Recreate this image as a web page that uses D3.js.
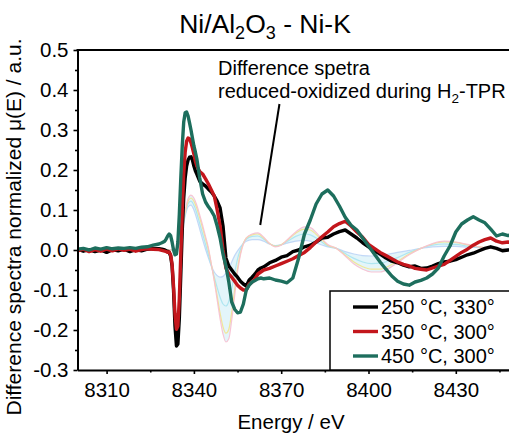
<!DOCTYPE html>
<html>
<head>
<meta charset="utf-8">
<script src="https://cdn.jsdelivr.net/npm/d3@7"></script>
<style>
  body { margin: 0; background: #fff; }
  svg { display: block; }
  text { font-family: Arial, "Liberation Sans", sans-serif; fill: #000; }
</style>
</head>
<body>
<svg id="chart" width="509" height="433"></svg>
<script>
// Energy grid (eV) shared by the three measured difference spectra
const energy = [
  8300, 8302, 8304, 8306, 8308, 8310, 8312, 8314, 8316, 8318, 8320, 8322, 8324, 8326, 8328,
  8329, 8330, 8330.5, 8331, 8331.5, 8332, 8332.5, 8333, 8333.5, 8334, 8334.5, 8335, 8335.5,
  8336, 8336.5, 8337, 8337.5, 8338, 8338.5, 8339, 8339.5, 8340, 8340.5, 8341,
  8342, 8343, 8344, 8345, 8346, 8347, 8348, 8349, 8350, 8351, 8352, 8353, 8354, 8355, 8356,
  8357, 8358, 8359, 8360, 8361, 8362, 8363, 8364,
  8366, 8368, 8370, 8372, 8374, 8376, 8378, 8380, 8382, 8384, 8386, 8388, 8390, 8392, 8394,
  8396, 8398, 8400, 8402, 8404, 8406, 8408, 8410, 8412, 8414, 8416, 8418, 8420, 8422, 8424,
  8426, 8428, 8430, 8432, 8434, 8436, 8438, 8440, 8442, 8444, 8446, 8448, 8450
];

// 250 °C, 330°
const spec250 = [
  0.002, -0.003, 0.001, -0.004, 0.000, -0.006, 0.001, -0.002, 0.002, -0.004, 0.001, -0.002, 0.002, 0.004, 0.003,
  0.002, 0.000, -0.002, -0.003, -0.006, -0.015, -0.040, -0.100, -0.190, -0.240, -0.235, -0.170, -0.060,
  0.050, 0.130, 0.180, 0.210, 0.225, 0.232, 0.233, 0.225, 0.210, 0.198, 0.190,
  0.172, 0.165, 0.160, 0.152, 0.145, 0.135, 0.122, 0.105, 0.060, -0.020, -0.040, -0.050, -0.060, -0.068, -0.078,
  -0.085, -0.090, -0.075, -0.068, -0.060, -0.050, -0.045, -0.042,
  -0.032, -0.026, -0.018, -0.014, -0.004, 0.000, 0.008, 0.012, 0.020, 0.030, 0.032, 0.040, 0.046, 0.050, 0.040,
  0.030, 0.018, 0.008, -0.002, -0.010, -0.020, -0.028, -0.032, -0.038, -0.042, -0.040, -0.046, -0.045, -0.040, -0.034,
  -0.030, -0.028, -0.024, -0.018, -0.012, -0.008, -0.002, 0.004, 0.008, 0.004, -0.002, 0.000, 0.002
];

// 350 °C, 300°
const spec350 = [
  -0.002, 0.002, -0.004, 0.001, -0.003, 0.002, -0.002, 0.003, -0.001, 0.002, -0.003, 0.001, 0.003, 0.002, 0.001,
  -0.001, -0.003, -0.004, -0.006, -0.005, -0.012, -0.035, -0.090, -0.160, -0.198, -0.190, -0.120, -0.010,
  0.100, 0.190, 0.245, 0.272, 0.280, 0.278, 0.268, 0.255, 0.240, 0.222, 0.210,
  0.196, 0.190, 0.178, 0.165, 0.150, 0.135, 0.100, 0.060, 0.000, -0.045, -0.060, -0.068, -0.078, -0.088, -0.095,
  -0.100, -0.100, -0.085, -0.080, -0.072, -0.060, -0.055, -0.050,
  -0.046, -0.040, -0.034, -0.028, -0.022, -0.014, -0.006, 0.006, 0.020, 0.033, 0.045, 0.058, 0.066, 0.072, 0.060,
  0.045, 0.032, 0.014, 0.004, -0.006, -0.014, -0.022, -0.030, -0.036, -0.040, -0.046, -0.048, -0.050, -0.045, -0.040,
  -0.036, -0.026, -0.016, -0.006, 0.002, 0.012, 0.020, 0.026, 0.030, 0.022, 0.018, 0.020, 0.016
];

// 450 °C, 300°
const spec450 = [
  0.002, 0.004, 0.000, 0.005, 0.002, 0.006, 0.003, 0.005, 0.004, 0.006, 0.004, 0.007, 0.008, 0.012, 0.015,
  0.018, 0.022, 0.028, 0.035, 0.040, 0.036, 0.020, 0.000, -0.012, -0.010, 0.020, 0.090, 0.180,
  0.260, 0.320, 0.343, 0.345, 0.335, 0.318, 0.300, 0.280, 0.260, 0.245, 0.228,
  0.180, 0.140, 0.120, 0.108, 0.098, 0.085, 0.060, 0.030, -0.010, -0.040, -0.080, -0.130, -0.148, -0.157, -0.155,
  -0.135, -0.100, -0.088, -0.080, -0.076, -0.072, -0.070, -0.072,
  -0.070, -0.075, -0.078, -0.082, -0.070, -0.020, 0.040, 0.075, 0.115, 0.140, 0.150, 0.135, 0.110, 0.082, 0.062,
  0.050, 0.030, 0.010, -0.010, -0.030, -0.048, -0.065, -0.078, -0.085, -0.088, -0.080, -0.076, -0.070, -0.060, -0.045,
  -0.015, 0.010, 0.045, 0.065, 0.075, 0.083, 0.075, 0.068, 0.052, 0.035, 0.040, 0.036, 0.040
];

// Family of reduced-minus-oxidized spectra recorded during H2-TPR (faint band)
const bandEnergy = [
  8300, 8332, 8334, 8335, 8336, 8337, 8338, 8339, 8340, 8341, 8342, 8343, 8344, 8345, 8346,
  8347, 8348, 8349, 8350, 8351, 8352, 8353, 8354, 8355, 8356, 8357, 8358, 8360, 8362, 8364,
  8366, 8368, 8370, 8372, 8375, 8378, 8380, 8383, 8386, 8389, 8392, 8395, 8398, 8401, 8404,
  8407, 8410, 8414, 8418, 8422, 8426, 8430, 8434, 8438, 8442, 8446, 8450
];
const tprPink = [
  0, 0, 0.005, 0.025, 0.060, 0.100, 0.128, 0.137, 0.130, 0.112, 0.088, 0.062, 0.034, 0.005, -0.035,
  -0.078, -0.125, -0.172, -0.210, -0.230, -0.222, -0.175, -0.115, -0.055, -0.012, 0.015, 0.030, 0.040, 0.043, 0.032,
  0.016, 0.008, 0.012, 0.025, 0.045, 0.058, 0.056, 0.036, 0.014, 0.004, -0.015, -0.035, -0.048, -0.055, -0.055,
  -0.046, -0.032, -0.012, 0.004, 0.016, 0.022, 0.020, 0.014, 0.008, 0.004, 0.002, 0
];
const tprYellow = [
  0, 0, 0.004, 0.022, 0.055, 0.094, 0.122, 0.130, 0.122, 0.104, 0.080, 0.055, 0.028, 0.000, -0.036,
  -0.074, -0.116, -0.158, -0.192, -0.208, -0.198, -0.155, -0.100, -0.046, -0.008, 0.016, 0.030, 0.038, 0.040, 0.030,
  0.016, 0.009, 0.013, 0.024, 0.042, 0.052, 0.050, 0.032, 0.012, 0.004, -0.013, -0.030, -0.042, -0.048, -0.048,
  -0.040, -0.028, -0.010, 0.004, 0.015, 0.020, 0.019, 0.013, 0.008, 0.004, 0.002, 0
];
const tprCyan = [
  0, 0, 0.003, 0.020, 0.052, 0.090, 0.116, 0.122, 0.112, 0.092, 0.066, 0.040, 0.014, -0.012, -0.040,
  -0.068, -0.094, -0.118, -0.135, -0.140, -0.128, -0.096, -0.058, -0.022, 0.002, 0.018, 0.027, 0.034, 0.035, 0.027,
  0.016, 0.010, 0.013, 0.021, 0.034, 0.040, 0.038, 0.025, 0.010, 0.004, -0.009, -0.021, -0.030, -0.034, -0.033,
  -0.027, -0.019, -0.006, 0.004, 0.012, 0.015, 0.014, 0.010, 0.007, 0.004, 0.002, 0
];
const tprBlue = [
  0, 0, 0.002, 0.018, 0.048, 0.085, 0.108, 0.112, 0.100, 0.078, 0.052, 0.026, 0.002, -0.020, -0.040,
  -0.055, -0.064, -0.068, -0.066, -0.058, -0.046, -0.030, -0.014, -0.002, 0.008, 0.016, 0.022, 0.026, 0.026, 0.022,
  0.015, 0.011, 0.013, 0.017, 0.022, 0.024, 0.022, 0.015, 0.008, 0.004, -0.004, -0.010, -0.014, -0.015, -0.013,
  -0.010, -0.006, -0.001, 0.004, 0.008, 0.009, 0.009, 0.007, 0.006, 0.005, 0.004, 0.002
];

const seriesNames = ["250 °C, 330°", "350 °C, 300°", "450 °C, 300°"];
const xTicks = [8310, 8340, 8370, 8400, 8430];
const xMinorTicks = [8325, 8355, 8385, 8415, 8445];
const yTicks = [-0.3, -0.2, -0.1, 0.0, 0.1, 0.2, 0.3, 0.4, 0.5];
const yMinorTicks = [-0.25, -0.15, -0.05, 0.05, 0.15, 0.25, 0.35, 0.45];

const seriesColors = ["#000000", "#c3161c", "#1d6e5d"];
const bandColors = ["#f7bfd0", "#f3e48c", "#a8e4ef", "#bcd4f6"];

const svg = d3.select("#chart");
const W = 509, H = 433;
const margin = { left: 77.5, top: 50, bottom: 370 };

const x = d3.scaleLinear().domain([8300, 8450]).range([margin.left, 514]);
const y = d3.scaleLinear().domain([-0.3, 0.5]).range([margin.bottom, margin.top]);

svg.append("defs").append("clipPath").attr("id", "plot")
  .append("rect").attr("x", margin.left).attr("y", margin.top)
  .attr("width", W - margin.left).attr("height", margin.bottom - margin.top);

const plot = svg.append("g").attr("clip-path", "url(#plot)");

// Faint TPR band: fill between outer curves plus individual thin curves
const bandPairs = bandEnergy.map((e, i) => ({ e, hi: tprPink[i], lo: tprBlue[i] }));
plot.append("path")
  .datum(bandPairs)
  .attr("fill", "#d9f1f8")
  .attr("opacity", 0.75)
  .attr("d", d3.area().curve(d3.curveMonotoneX)
    .x(d => x(d.e)).y0(d => y(d.lo)).y1(d => y(d.hi)));

const bandLine = d3.line().curve(d3.curveMonotoneX).x(d => x(d[0])).y(d => y(d[1]));
[tprBlue, tprCyan, tprYellow, tprPink].forEach((vals, k) => {
  plot.append("path")
    .datum(bandEnergy.map((e, i) => [e, vals[i]]))
    .attr("fill", "none")
    .attr("stroke", [bandColors[3], bandColors[2], bandColors[1], bandColors[0]][k])
    .attr("stroke-width", 1.2)
    .attr("opacity", 0.9)
    .attr("d", bandLine);
});

// Measured difference spectra
const specLine = d3.line().x(d => x(d[0])).y(d => y(d[1]));
[spec250, spec350, spec450].forEach((vals, k) => {
  plot.append("path")
    .datum(energy.map((e, i) => [e, vals[i]]))
    .attr("fill", "none")
    .attr("stroke", seriesColors[k])
    .attr("stroke-width", 3.4)
    .attr("stroke-linejoin", "round")
    .attr("d", specLine);
});

// Axes
const fmtY = d => d.toFixed(1);
svg.append("g").attr("transform", `translate(0,${margin.bottom})`)
  .call(d3.axisBottom(x).tickValues(xTicks).tickSize(4).tickSizeOuter(0).tickPadding(8).tickFormat(d3.format("d")));
svg.append("g").attr("transform", `translate(0,${margin.bottom})`)
  .call(d3.axisBottom(x).tickValues(xMinorTicks).tickSize(2.5).tickSizeOuter(0).tickFormat(""))
  .select(".domain").remove();
svg.append("g").attr("transform", `translate(${margin.left},0)`)
  .call(d3.axisLeft(y).tickValues(yTicks).tickSize(4).tickSizeOuter(0).tickPadding(5).tickFormat(fmtY));
svg.append("g").attr("transform", `translate(${margin.left},0)`)
  .call(d3.axisLeft(y).tickValues(yMinorTicks).tickSize(2.5).tickSizeOuter(0).tickFormat(""))
  .select(".domain").remove();

svg.selectAll(".domain").attr("stroke", "#000").attr("stroke-width", 2);
svg.selectAll(".tick line").attr("stroke", "#000").attr("stroke-width", 1.6);
svg.selectAll(".tick text").attr("font-size", 20.5).attr("fill", "#000")
  .attr("font-family", 'Arial, "Liberation Sans", sans-serif');

// Top frame line
svg.append("line")
  .attr("x1", margin.left - 1).attr("x2", W)
  .attr("y1", margin.top).attr("y2", margin.top)
  .attr("stroke", "#000").attr("stroke-width", 2);

// Title
const title = svg.append("text").attr("x", 265).attr("y", 33)
  .attr("text-anchor", "middle").attr("font-size", 26.5);
title.append("tspan").text("Ni/Al");
title.append("tspan").text("2").attr("font-size", 18).attr("dy", 6);
title.append("tspan").text("O").attr("dy", -6);
title.append("tspan").text("3").attr("font-size", 18).attr("dy", 6);
title.append("tspan").text(" - Ni-K").attr("dy", -6);

// Axis titles
svg.append("text")
  .attr("transform", `translate(21,${227}) rotate(-90)`)
  .attr("text-anchor", "middle").attr("font-size", 21)
  .text("Difference spectra normalized \u03bc(E) / a.u.");
svg.append("text").attr("x", 291).attr("y", 429)
  .attr("text-anchor", "middle").attr("font-size", 20.5)
  .text("Energy / eV");

// Annotation
svg.append("text").attr("x", 218).attr("y", 75).attr("font-size", 20).text("Difference spetra");
const note2 = svg.append("text").attr("x", 218).attr("y", 98).attr("font-size", 20);
note2.append("tspan").text("reduced-oxidized during H");
note2.append("tspan").text("2").attr("font-size", 13.5).attr("dy", 5);
note2.append("tspan").text("-TPR").attr("dy", -5);
svg.append("line")
  .attr("x1", x(8369.4)).attr("y1", 104)
  .attr("x2", x(8362.8)).attr("y2", 225)
  .attr("stroke", "#000").attr("stroke-width", 2);

// Legend
const legend = svg.append("g");
legend.append("rect")
  .attr("x", 330).attr("y", 291).attr("width", 200).attr("height", margin.bottom - 291)
  .attr("fill", "#fff").attr("stroke", "#000").attr("stroke-width", 1.5);
seriesNames.forEach((name, i) => {
  const ly = 307 + i * 24.5;
  legend.append("line").attr("x1", 353).attr("x2", 378).attr("y1", ly).attr("y2", ly)
    .attr("stroke", seriesColors[i]).attr("stroke-width", 3.4);
  legend.append("text").attr("x", 381).attr("y", ly + 7).attr("font-size", 20).text(name);
});
</script>
</body>
</html>
